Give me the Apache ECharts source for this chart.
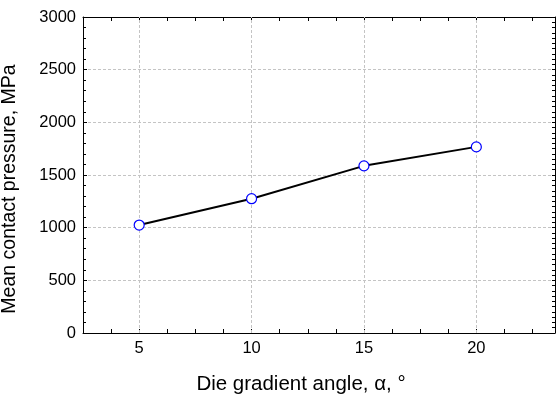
<!DOCTYPE html>
<html>
<head>
<meta charset="utf-8">
<script src="https://cdn.jsdelivr.net/npm/echarts@6/dist/echarts.min.js"></script>
<style>html,body{margin:0;padding:0;background:#fff;}#c{width:556px;height:394px;}</style>
</head>
<body>
<div id="c"></div>
<script>
const angles = [5, 10, 15, 20];
const pressure = [1025, 1275, 1587, 1767];
const xGridValues = [5, 10, 15, 20];
const xTitle = 'Die gradient angle, \u03b1, \u00b0';
const yTitle = 'Mean contact pressure, MPa';

const chart = echarts.init(document.getElementById('c'), null, {renderer: 'canvas'});
const font = 'Liberation Sans, Arial, sans-serif';
const axisLineStyle = {color: '#000', width: 1};
const xBase = {
  type: 'value', min: 2.5, max: 23.5, interval: 1.25,
  axisLine: {show: true, onZero: false, lineStyle: axisLineStyle},
  axisTick: {show: true, inside: true, length: 4, lineStyle: {color: '#000'}},
  splitLine: {show: false}
};
chart.setOption({
  animation: false,
  grid: {left: 83, right: 1, top: 17, bottom: 61, containLabel: false, outerBoundsMode: 'none'},
  xAxis: [
    Object.assign({}, xBase, {
      position: 'bottom',
      name: xTitle, nameLocation: 'middle', nameGap: 41,
      nameTextStyle: {fontFamily: font, fontSize: 20.5, color: '#000', padding: [0, 36, 0, 0]},
      axisLabel: {show: true, margin: 7, fontFamily: font, fontSize: 16.5, color: '#000',
        formatter: v => (Math.abs(v % 5) < 1e-9 ? String(v) : '')}
    }),
    Object.assign({}, xBase, {position: 'top', axisLabel: {show: false}})
  ],
  yAxis: [
    {
      type: 'value', min: 0, max: 3000, interval: 500, position: 'left',
      name: yTitle, nameLocation: 'middle', nameGap: 63,
      nameTextStyle: {fontFamily: font, fontSize: 19.5, color: '#000', padding: [0, 28, 0, 0]},
      axisLine: {show: true, onZero: false, lineStyle: axisLineStyle},
      axisTick: {show: true, inside: true, length: 4, lineStyle: {color: '#000'}},
      minorTick: {show: true, splitNumber: 5, length: 3, lineStyle: {color: '#000'}},
      axisLabel: {margin: 7, fontFamily: font, fontSize: 16.5, color: '#000', formatter: v => String(v)},
      splitLine: {show: true, lineStyle: {color: '#c4c4c4', type: [3, 2], width: 1}}
    },
    {
      type: 'value', min: 0, max: 3000, interval: 500, position: 'right',
      axisLine: {show: true, onZero: false, lineStyle: axisLineStyle},
      axisTick: {show: true, inside: true, length: 3, lineStyle: {color: '#000'}},
      minorTick: {show: true, splitNumber: 10, length: 3, lineStyle: {color: '#000'}},
      axisLabel: {show: false},
      splitLine: {show: false}
    }
  ],
  series: [
    {
      type: 'line', data: [], z: 1, silent: true,
      markLine: {
        silent: true, symbol: 'none', label: {show: false},
        lineStyle: {color: '#c4c4c4', type: [3, 2], width: 1},
        data: xGridValues.map(v => ({xAxis: v}))
      }
    },
    {
      type: 'line', z: 5,
      data: angles.map((a, i) => [a, pressure[i]]),
      lineStyle: {color: '#000', width: 2},
      symbol: 'circle', symbolSize: 10,
      itemStyle: {color: '#fff', borderColor: '#0000ff', borderWidth: 1.2}
    }
  ]
});
</script>
</body>
</html>
